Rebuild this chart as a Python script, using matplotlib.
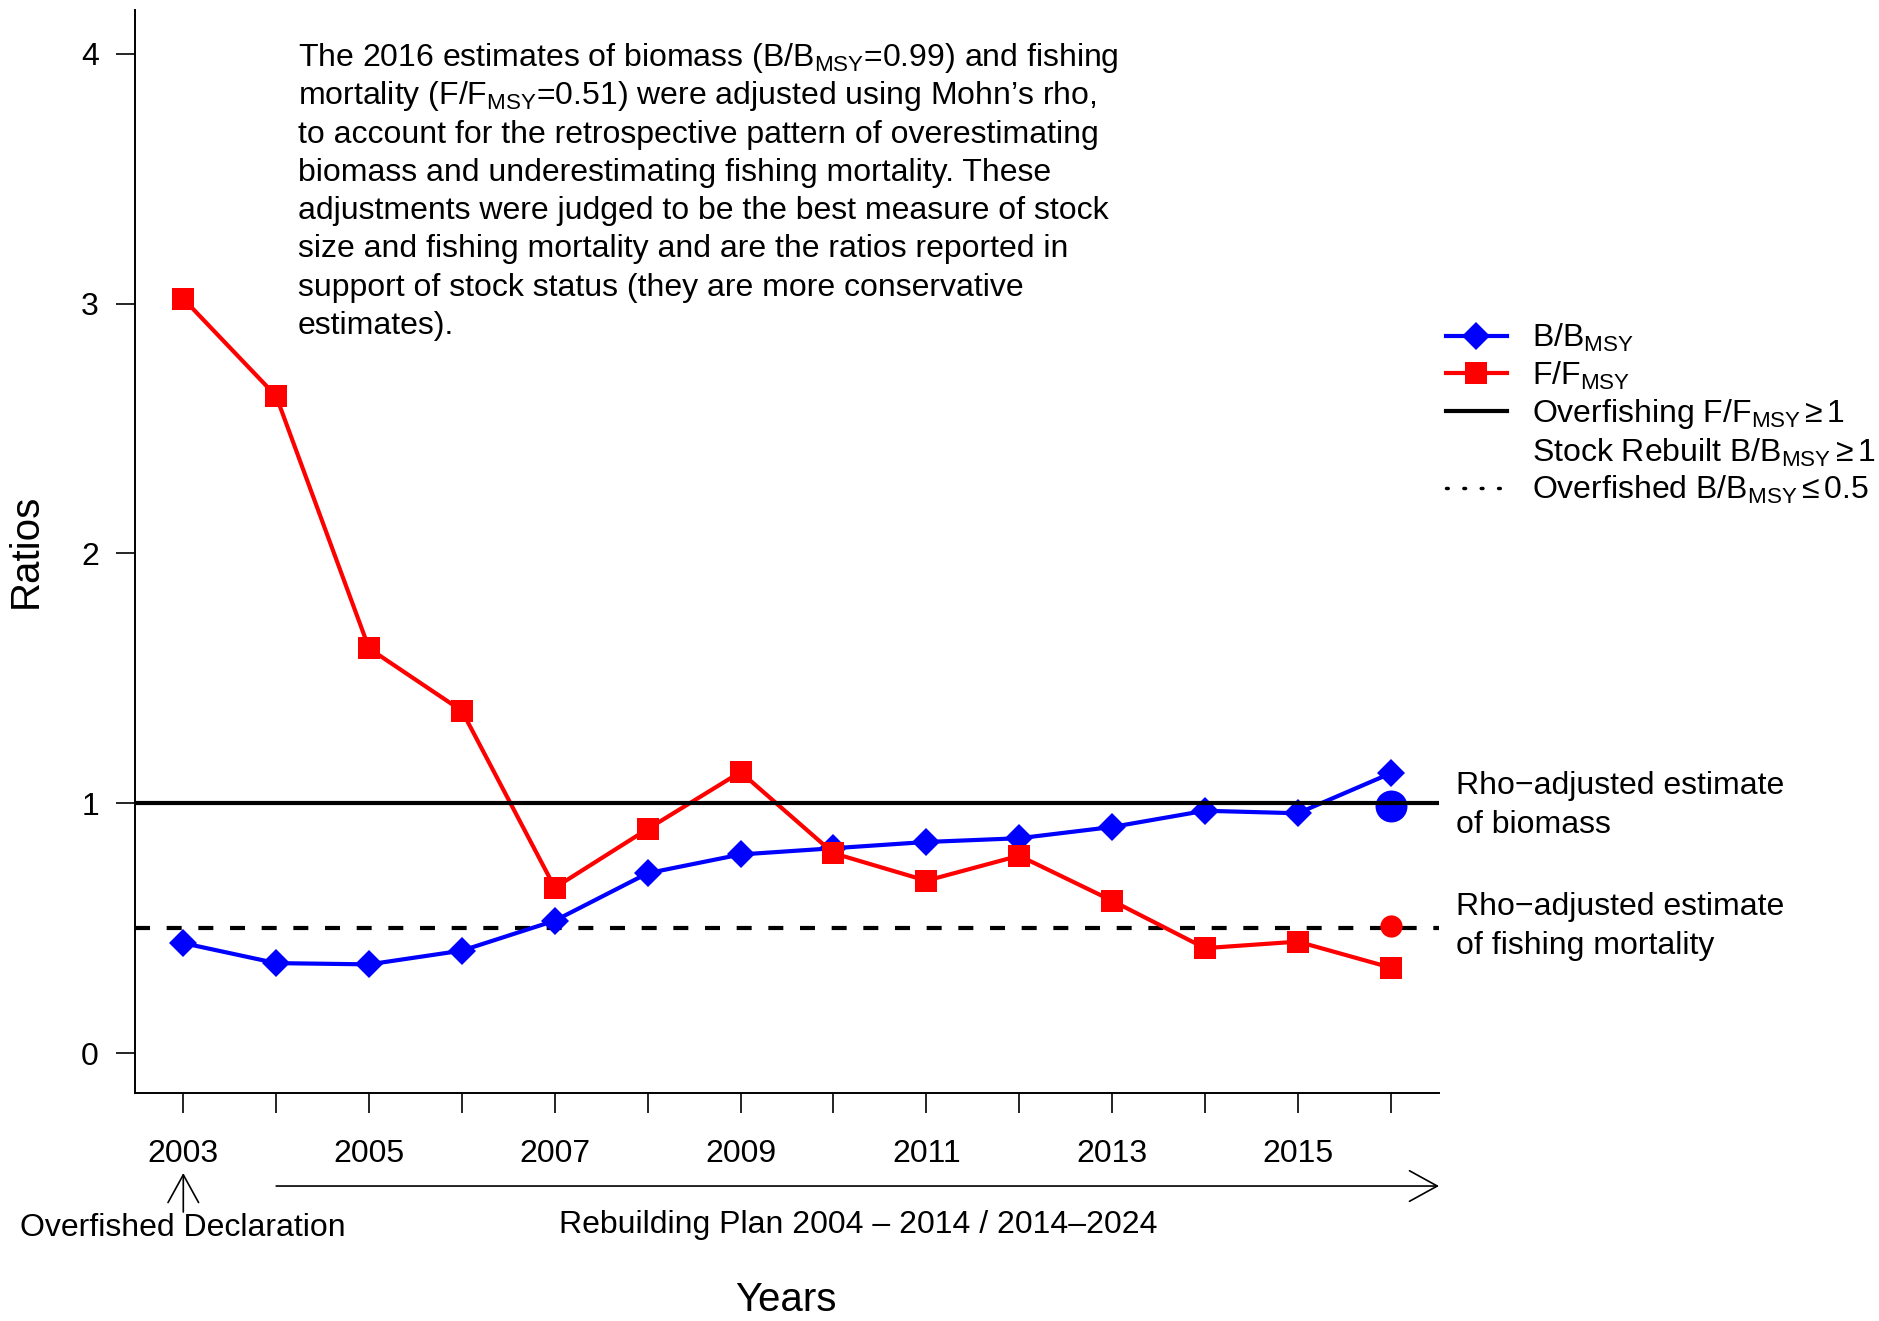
import matplotlib
matplotlib.use('Agg')
import matplotlib.pyplot as plt
from matplotlib.lines import Line2D

plt.rcParams['font.family'] = ['Liberation Sans', 'DejaVu Sans']
plt.rcParams['mathtext.fontset'] = 'custom'
plt.rcParams['mathtext.rm'] = 'Liberation Sans'
plt.rcParams['mathtext.it'] = 'Liberation Sans:italic'
plt.rcParams['mathtext.bf'] = 'Liberation Sans:bold'

# data
years = [2003, 2004, 2005, 2006, 2007, 2008, 2009, 2010, 2011, 2012, 2013, 2014, 2015, 2016]
b_ratio = [0.44, 0.36, 0.355, 0.41, 0.53, 0.72, 0.795, 0.82, 0.845, 0.86, 0.905, 0.97, 0.96, 1.12]
f_ratio = [3.02, 2.63, 1.62, 1.37, 0.662, 0.897, 1.125, 0.80, 0.69, 0.79, 0.61, 0.42, 0.446, 0.342]
year_labels = ['2003', '', '2005', '', '2007', '', '2009', '', '2011', '', '2013', '', '2015', '']
y_ticks = [0, 1, 2, 3, 4]

rho_year = 2016
rho_b = 0.99
rho_f = 0.51

note_lines = [
    r'The 2016 estimates of biomass (B/B$_{\mathrm{MSY}}$=0.99) and fishing',
    r'mortality (F/F$_{\mathrm{MSY}}$=0.51) were adjusted using Mohn’s rho,',
    'to account for the retrospective pattern of overestimating',
    'biomass and underestimating fishing mortality. These',
    'adjustments were judged to be the best measure of stock',
    'size and fishing mortality and are the ratios reported in',
    'support of stock status (they are more conservative',
    'estimates).',
]

W, H = 1879, 1321
FS = 23

fig = plt.figure(figsize=(W / 100, H / 100), dpi=100)
ax = fig.add_axes([135 / W, 1 - 1093 / H, (1439 - 135) / W, (1093 - 10) / H])

ax.plot(years, b_ratio, color='blue', lw=3, marker='D', ms=14, mew=0, zorder=3)
ax.plot(years, f_ratio, color='red', lw=3, marker='s', ms=16, mew=0, zorder=3)
ax.plot([rho_year], [rho_b], 'o', color='blue', ms=23, mew=0, zorder=3)
ax.plot([rho_year], [rho_f], 'o', color='red', ms=16, mew=0, zorder=3)

ax.axhline(1, color='black', lw=3, zorder=4)
ax.axhline(0.5, color='black', lw=3, dashes=(3.6, 4.0), zorder=2)

ax.set_xlim(2002.48, 2016.52)
ax.set_ylim(-0.16, 4.176)
ax.set_xticks(years)
ax.set_xticklabels(year_labels)
ax.set_yticks(y_ticks)
ax.tick_params(axis='x', length=14.4, width=1.2, pad=19, labelsize=FS)
ax.tick_params(axis='y', length=14, width=1.2, pad=12, labelsize=FS)
for s in ['top', 'right']:
    ax.spines[s].set_visible(False)
for s in ['left', 'bottom']:
    ax.spines[s].set_linewidth(1.4)

# annotation block
for i, line in enumerate(note_lines):
    fig.text(298 / W, 1 - (66 + 38.3 * i) / H, line, fontsize=FS, va='baseline', ha='left')

# rho-adjusted notes
rho_notes = [('Rho\u2212adjusted estimate', 794), ('of biomass', 833),
             ('Rho\u2212adjusted estimate', 915), ('of fishing mortality', 954)]
for txt, yb in rho_notes:
    fig.text(1456 / W, 1 - yb / H, txt, fontsize=FS, va='baseline', ha='left')

# axis titles
fig.text(26 / W, 1 - 551 / H, 'Ratios', fontsize=29, rotation=90, ha='center', va='center')
fig.text(786 / W, 1 - 1300 / H, 'Years', fontsize=29, ha='center', va='center')

# arrows under the axis
xt = ax.get_xaxis_transform()
ax.annotate('', xy=(2016.52, -0.0859), xytext=(2004, -0.0859), xycoords=xt, textcoords=xt,
            annotation_clip=False,
            arrowprops=dict(arrowstyle='->,head_length=1.0,head_width=0.55', lw=1.2,
                            color='black', shrinkA=0, shrinkB=0, mutation_scale=20))
ax.annotate('', xy=(2003, -0.0739), xytext=(2003, -0.1099), xycoords=xt, textcoords=xt,
            annotation_clip=False,
            arrowprops=dict(arrowstyle='->,head_length=1.0,head_width=0.55', lw=1.2,
                            color='black', shrinkA=0, shrinkB=0, mutation_scale=20))
ax.text(2003, -0.1247, 'Overfished Declaration', transform=xt, ha='center', va='center', fontsize=FS)
ax.text(2010.27, -0.1219, 'Rebuilding Plan 2004 \u2013 2014 / 2014\u20132024', transform=xt,
        ha='center', va='center', fontsize=FS)

# legend
handles = [
    Line2D([], [], color='blue', lw=3, marker='D', ms=14, mew=0),
    Line2D([], [], color='red', lw=3, marker='s', ms=16, mew=0),
    Line2D([], [], color='black', lw=3),
    Line2D([], [], color='none'),
    Line2D([], [], color='black', lw=2.5, ls=(0, (0.5, 4.5)), dash_capstyle='round'),
]
labels = [
    r'B/B$_{\mathrm{MSY}}$',
    r'F/F$_{\mathrm{MSY}}$',
    r'Overfishing F/F$_{\mathrm{MSY}}\,$≥$\,$1',
    r'Stock Rebuilt B/B$_{\mathrm{MSY}}\,$≥$\,$1',
    r'Overfished B/B$_{\mathrm{MSY}}\,$≤$\,$0.5',
]
fig.legend(handles, labels, loc='upper left', bbox_to_anchor=(1446 / W, 1 - 322 / H),
           frameon=False, fontsize=FS, handlelength=1.9, handletextpad=0.8,
           labelspacing=0.17, borderpad=0, borderaxespad=0)

fig.savefig('out.png', dpi=100)
